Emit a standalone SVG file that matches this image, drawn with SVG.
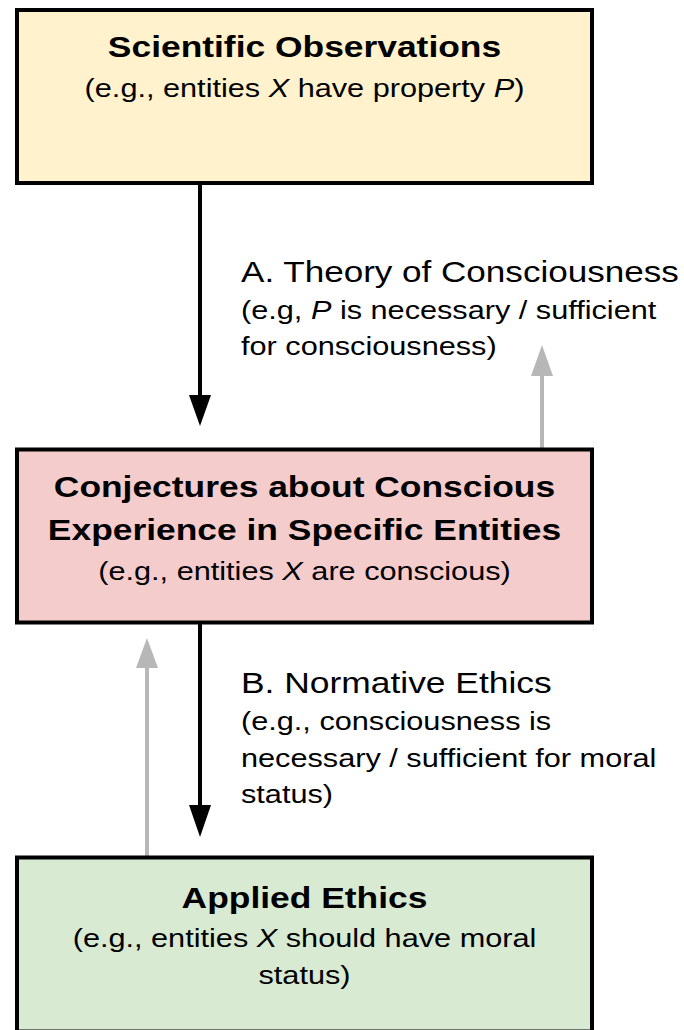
<svg xmlns="http://www.w3.org/2000/svg" width="684" height="1030" viewBox="0 0 684 1030">
<style>
.box{stroke:#000;stroke-width:4}
.t{font-family:"Liberation Sans",Arial,sans-serif;fill:#000}
.h{font-size:30px;font-weight:bold;text-anchor:middle}
.s{font-size:26px;text-anchor:middle}
.lh{font-size:30px}
.ls{font-size:26px}
.blk{stroke:#000;stroke-width:4;fill:none}
.gry{stroke:#b7b7b7;stroke-width:4;fill:none}
</style>
<rect width="684" height="1030" fill="#fff"/>
<g id="connectors">
  <line class="blk" x1="200" y1="184" x2="200" y2="397"/>
  <polygon points="189,395 211,395 200,426" fill="#000"/>
  <line class="gry" x1="542" y1="448" x2="542" y2="374"/>
  <polygon points="531,376 553,376 542,345" fill="#b7b7b7"/>
  <line class="blk" x1="200" y1="623" x2="200" y2="807"/>
  <polygon points="189,805 211,805 200,837" fill="#000"/>
  <line class="gry" x1="147" y1="856" x2="147" y2="666"/>
  <polygon points="136,668 158,668 147,638" fill="#b7b7b7"/>
</g>
<g id="labelA" transform="translate(241,0) scale(1.18,1)">
  <text class="t lh" x="0" y="282" textLength="371" lengthAdjust="spacingAndGlyphs">A. Theory of Consciousness</text>
  <text class="t ls" x="0" y="319">(e.g, <tspan font-style="italic">P</tspan> is necessary / sufficient</text>
  <text class="t ls" x="0" y="355">for consciousness)</text>
</g>
<g id="labelB" transform="translate(241,0) scale(1.18,1)">
  <text class="t lh" x="0" y="693">B. Normative Ethics</text>
  <text class="t ls" x="0" y="730">(e.g., consciousness is</text>
  <text class="t ls" x="0" y="767">necessary / sufficient for moral</text>
  <text class="t ls" x="0" y="803">status)</text>
</g>
<g id="scientific-observations">
  <rect class="box" x="17" y="10" width="575" height="173" fill="#fff2cc"/>
  <g transform="translate(304.5,0) scale(1.18,1)">
    <text class="t h" x="0" y="57">Scientific Observations</text>
    <text class="t s" x="0" y="97">(e.g., entities <tspan font-style="italic">X</tspan> have property <tspan font-style="italic">P</tspan>)</text>
  </g>
</g>
<g id="conjectures">
  <rect class="box" x="17" y="449.5" width="575" height="173" fill="#f4cccc"/>
  <g transform="translate(304.5,0) scale(1.18,1)">
    <text class="t h" x="0" y="497">Conjectures about Conscious</text>
    <text class="t h" x="0" y="540">Experience in Specific Entities</text>
    <text class="t s" x="0" y="580">(e.g., entities <tspan font-style="italic">X</tspan> are conscious)</text>
  </g>
</g>
<g id="applied-ethics">
  <rect class="box" x="17" y="857.5" width="575" height="174" fill="#d9ead3"/>
  <g transform="translate(304.5,0) scale(1.18,1)">
    <text class="t h" x="0" y="908">Applied Ethics</text>
    <text class="t s" x="0" y="947">(e.g., entities <tspan font-style="italic">X</tspan> should have moral</text>
    <text class="t s" x="0" y="984">status)</text>
  </g>
</g>
</svg>
